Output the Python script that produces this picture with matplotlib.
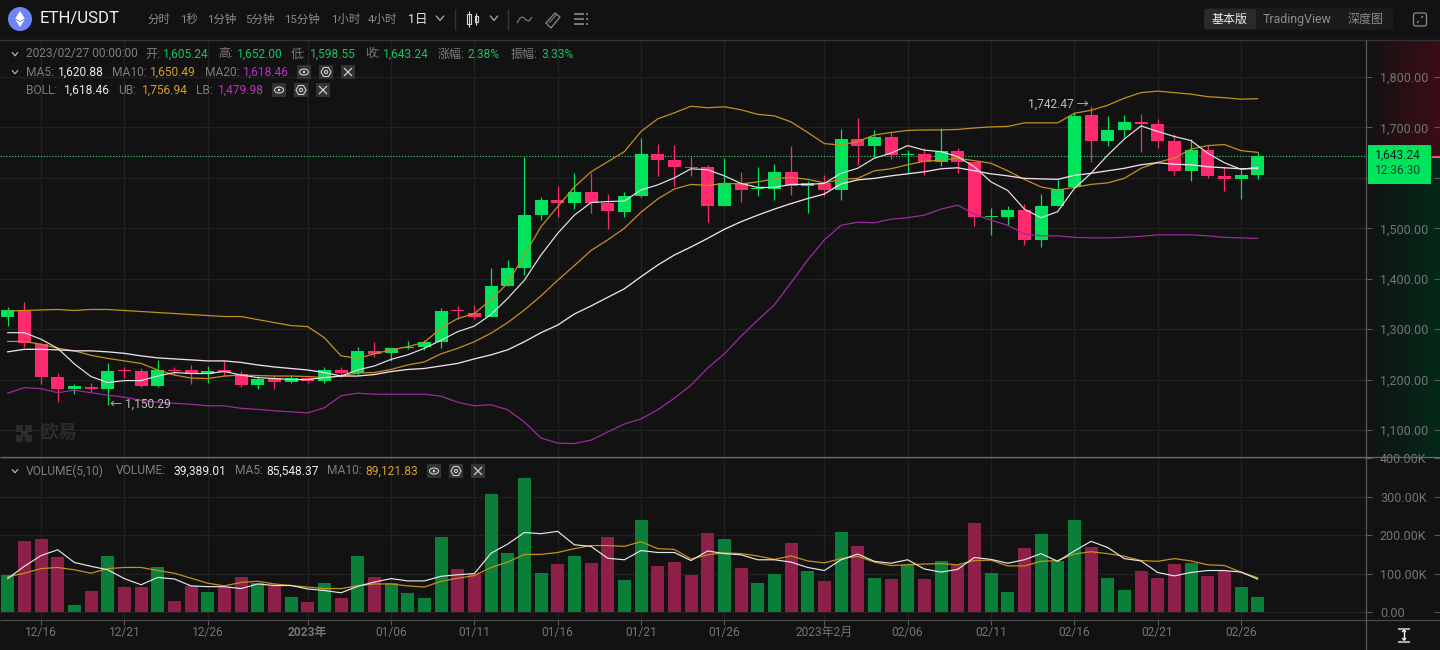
import numpy as np
import matplotlib
matplotlib.use("Agg")
import matplotlib.pyplot as plt
from matplotlib.patches import Rectangle, Circle, Ellipse, Polygon, FancyBboxPatch
from matplotlib.transforms import Bbox

plt.rcParams['font.family'] = ['Roboto', 'Noto Sans CJK SC', 'DejaVu Sans']

# ---------- data ----------
opens = [1325,1338,1270,1205,1182,1185,1181,1219,1217,1187,1219,1219,1212,1217,1212,1189,1203,1196,1203,1198,
         1219,1214,1257,1252,1263,1264,1274,1337,1333,1324,1386,1421,1526,1556,1551,1572,1551,1533,1564,1647,
         1635,1622,1622,1544,1589,1578,1578,1611,1584,1589,1576,1678,1663,1681,1645,1647,1632,1653,1631,1522,
         1523,1536,1477,1544,1581,1725,1674,1695,1711,1707,1673,1614,1655,1604,1598,1605.24]
highs = [1344,1354,1272,1213,1191,1194,1232,1225,1222,1239,1224,1228,1227,1237,1217,1207,1207,1209,1203,1225,
         1225,1264,1275,1263,1276,1279,1341,1345,1348,1421,1438,1642,1562,1584,1610,1610,1568,1571,1679,1668,
         1665,1642,1626,1639,1612,1621,1627,1663,1594,1606,1696,1719,1695,1690,1655,1659,1698,1659,1632,1540,
         1544,1548,1568,1596,1730,1742.47,1723,1725,1727,1716,1686,1678,1665,1622,1616,1652]
lows = [1306,1265,1191,1156,1171,1175,1150.29,1203,1186,1185,1209,1191,1194,1207,1186,1181,1181,1194,1193,1194,
        1205,1210,1244,1236,1260,1259,1263,1320,1321,1324,1386,1407,1516,1522,1538,1530,1499,1523,1563,1604,
        1584,1604,1513,1544,1553,1564,1556,1566,1531,1564,1556,1626,1642,1637,1609,1606,1624,1610,1504,1487,
        1506,1466,1462,1544,1579,1632,1664,1682,1652,1660,1606,1594,1600,1574,1558,1598.55]
closes = [1338,1272,1206,1181,1187,1181,1217,1217,1187,1219,1217,1212,1217,1216,1189,1201,1196,1203,1198,1219,
          1214,1257,1251,1263,1264,1274,1336,1336,1325,1386,1421,1526,1556,1551,1571,1551,1534,1564,1647,1635,
          1622,1620,1544,1589,1576,1579,1611,1584,1589,1576,1678,1663,1681,1645,1647,1632,1653,1632,1523,1523,
          1536,1477,1544,1578,1723,1674,1695,1711,1706,1674,1614,1655,1604,1598,1605,1643.24]

ma5 = [1293,1293,1280,1262,1231,1206,1194,1198,1198,1207,1214,1212,1212,1216,1209,1204,1202,1200,1200,1204,
       1207,1219,1227,1240,1249,1262,1278,1295,1306,1329,1361,1397,1447,1490,1526,1551,1553,1554,1576,1586,
       1600,1618,1616,1604,1589,1581,1581,1587,1587,1589,1609,1619,1639,1649,1664,1655,1652,1642,1622,1592,
       1575,1538,1521,1533,1579,1609,1645,1677,1703,1692,1682,1674,1649,1630,1617,1620.88]
ma10 = [1275.6,1275.6,1270,1262,1257,1248,1242,1237,1232,1219,1209,1203,1202,1207,1209,1208,1207,1207,1206,1204,
        1207,1213,1214,1220,1229,1235,1251,1262,1275,1292,1313,1338,1366,1397,1426,1456,1477,1500,1532,1558,
        1578,1587,1585,1589,1588,1592,1598,1601,1597,1590,1597,1599,1614,1618,1626,1633,1635,1639,1634,1629,
        1614,1597,1582,1576,1581,1587,1590,1599,1619,1631,1639,1657,1664,1666,1654,1650.49]
ma20 = [1255,1260,1260,1259,1257,1257,1255,1252,1247,1243,1241,1239,1237,1237,1234,1229,1225,1222,1219,1214,
        1207,1207,1210,1216,1220,1222,1227,1232,1241,1249,1259,1275,1293,1308,1330,1346,1363,1380,1404,1427,
        1447,1463,1480,1498,1513,1526,1538,1549,1559,1568,1588,1596,1599,1604,1608,1612,1618,1620,1614,1608,
        1604,1599,1598,1597,1605,1609,1614,1619,1626,1630,1627,1626,1622,1620,1618,1618.46]
boll_ub = [1336,1337,1338,1339,1337,1339,1339,1337,1335,1333,1331,1329,1327,1325,1325,1319,1313,1307,1305,1283,
           1247,1242,1251,1259,1265,1274,1302,1321,1331,1358,1391,1447,1503,1543,1582,1612,1632,1652,1692,1717,
           1729,1742,1739,1741,1735,1726,1723,1711,1690,1668,1665,1672,1685,1690,1694,1695,1695,1696,1699,1701,
           1702,1709,1709,1709,1728,1734,1744,1758,1769,1772,1769,1766,1761,1759,1756,1756.94]
boll_lb = [1173,1184,1182,1174,1179,1174,1169,1165,1159,1155,1153,1151,1148,1148,1143,1141,1138,1136,1134,1144,
           1168,1173,1171,1171,1171,1171,1167,1155,1148,1150,1140,1116,1084,1074,1073,1080,1096,1112,1122,1140,
           1163,1189,1223,1251,1286,1318,1348,1392,1437,1477,1506,1512,1511,1518,1521,1526,1538,1546,1528,1516,
           1506,1489,1485,1485,1482,1481,1481,1482,1484,1487,1487,1487,1485,1482,1481,1479.98]

volumes = [97,185,190,144,19,55,146,66,66,118,29,68,53,66,92,75,68,40,27,76,
           37,146,92,76,50,37,196,113,99,307,154,349,102,125,146,128,196,84,240,120,
           131,97,206,190,115,76,100,180,107,81,209,172,89,87,123,87,133,123,232,102,
           53,167,203,133,240,170,89,58,107,89,125,128,94,107,66,39.389]
vol_ma5 = [87,119,147,162,129,119,110,87,71,90,86,68,66,66,61,73,69,69,60,56,
           50,67,78,87,81,81,93,97,100,153,177,207,204,210,175,171,140,136,160,155,
           155,134,159,152,149,136,136,130,116,108,136,151,132,127,136,112,104,111,142,137,
           127,136,152,132,159,184,168,139,133,103,94,103,108,108,104,85.548]
vol_ma10 = [92,101,113,116,110,101,113,116,116,108,101,88,75,68,77,80,73,69,65,61,
            61,68,73,73,68,65,80,88,95,116,130,150,150,155,165,173,173,171,183,165,
            163,138,149,154,152,146,137,146,133,128,139,145,130,121,123,125,126,123,134,135,
            120,120,132,134,151,157,152,145,134,132,139,133,123,121,104,89.122]

date_idx = [2,7,12,18,23,28,33,38,43,49,54,59,64,69,74]
date_labels = ['12/16','12/21','12/26','2023年','01/06','01/11','01/16','01/21','01/26',
               '2023年2月','02/06','02/11','02/16','02/21','02/26']
price_ticks = [1100,1200,1300,1400,1500,1600,1700,1800]
vol_ticks = [0,100,200,300,400]

BG = '#121212'; GRID = '#212121'; GREY = '#7d7d7d'; LABEL = '#747474'
UP = '#00e35c'; DOWN = '#ff2a6d'; VUP = '#0a7f39'; VDOWN = '#8e1f49'
WHITE = '#e6e6e6'; ORANGE = '#c4901f'; ROSE = '#f3dcec'; PURPLE = '#9a2c9d'
W, H = 1440, 650
px = 0.72

def rect(y0, y1, x0=0, x1=1366):
    return [x0/W, 1-y1/H, (x1-x0)/W, (y1-y0)/H]

fig = plt.figure(figsize=(14.4, 6.5), dpi=100, facecolor=BG)

n = len(closes)
x = np.arange(n)
xlim = (-0.462, 81.5)

# ---------- right gradient panel ----------
gr = fig.add_axes(rect(41, 457, 1366, 1440), zorder=0)
gr.axis('off')
ramp = np.linspace(0, 1, 64)
red = np.zeros((2, 64, 4)); red[..., 0] = 0.27; red[..., 1] = 0.05; red[..., 2] = 0.09; red[..., 3] = ramp * 0.85
grn = np.zeros((2, 64, 4)); grn[..., 0] = 0.0; grn[..., 1] = 0.18; grn[..., 2] = 0.10; grn[..., 3] = ramp * 0.85
gr.imshow(red, extent=(0, 1, 116, 0), aspect='auto', zorder=1)
gr.imshow(grn, extent=(0, 1, 416, 116), aspect='auto', zorder=1)
gr.set_xlim(0, 1); gr.set_ylim(416, 0)

# ---------- price pane ----------
ax = fig.add_axes(rect(41, 457), zorder=2)
ax.patch.set_alpha(0)
ax.set_xlim(*xlim)
ax.set_ylim(1800 - 380*1.983, 1800 + 36*1.983)
ax.set_yticks(price_ticks)
ax.set_yticklabels(['' if v == 1600 else f'{v:,.2f}' for v in price_ticks], color=LABEL, fontsize=12.5*px)
ax.yaxis.tick_right()
ax.tick_params(axis='y', length=4, width=0.8, color='#5a5a5a', pad=6)
ax.hlines(price_ticks, 1434/1366, 1440/1366, transform=ax.get_yaxis_transform(), colors='#5a5a5a', lw=0.8, clip_on=False)
ax.set_xticks(date_idx); ax.tick_params(axis='x', length=0, labelbottom=False)
ax.grid(True, color=GRID, lw=1)
ax.set_axisbelow(True)
for s in ax.spines.values():
    s.set_visible(False)

colors = [UP if c >= o else DOWN for o, c in zip(opens, closes)]
ax.vlines(x, lows, highs, colors=colors, lw=0.9, zorder=3)
ax.bar(x, np.maximum(np.abs(np.array(closes)-np.array(opens)), 2.0),
       bottom=np.minimum(opens, closes), width=0.78, color=colors, lw=0, zorder=3)
ax.axhline(closes[-1], color='#3fd27a', lw=0.8, ls=(0, (1, 1.6)), zorder=2.5)

ax.plot(x, boll_lb, color=PURPLE, lw=0.9, zorder=4)
ax.plot(x, boll_ub, color=ORANGE, lw=0.9, zorder=4)
ax.plot(x, ma10, color=ORANGE, lw=0.9, zorder=4)
ax.plot(x, ma20, color=ROSE, lw=0.95, zorder=4)
ax.plot(x, ma5, color=WHITE, lw=0.85, zorder=5)

ax.annotate('← 1,150.29', xy=(6, 1150.29), xytext=(1.5, 0), textcoords='offset points',
            color='#c0c0c0', fontsize=12*px, va='center', ha='left', zorder=6)
ax.annotate('1,742.47 →', xy=(65, 1742.47), xytext=(-1.5, 1), textcoords='offset points',
            color='#c0c0c0', fontsize=12*px, va='center', ha='right', zorder=6)

# ---------- volume pane ----------
av = fig.add_axes(rect(458, 620), zorder=2)
av.patch.set_alpha(0)
av.set_xlim(*xlim)
av.set_ylim(-20.8, 401)
av.set_yticks(vol_ticks)
labs = av.set_yticklabels(['0.00', '100.00K', '200.00K', '300.00K', '400.00K'],
                          color=LABEL, fontsize=12.5*px)
av.yaxis.tick_right()
av.tick_params(axis='y', length=4, width=0.8, color='#5a5a5a', pad=6)
av.hlines(vol_ticks, 1434/1366, 1440/1366, transform=av.get_yaxis_transform(), colors='#5a5a5a', lw=0.8, clip_on=False)
av.set_xticks(date_idx)
xl = av.set_xticklabels(date_labels, color=LABEL, fontsize=12*px)
xl[3].set_fontweight('bold')
av.tick_params(axis='x', length=3.5, width=0.8, color='#5a5a5a', pad=1)
av.grid(True, color=GRID, lw=1)
av.set_axisbelow(True)
for s in av.spines.values():
    s.set_visible(False)
av.bar(x, volumes, width=0.78, color=[VUP if c == UP else VDOWN for c in colors], lw=0, zorder=3)
av.plot(x, vol_ma10, color=ORANGE, lw=0.9, zorder=4)
av.plot(x, vol_ma5, color=WHITE, lw=0.85, zorder=5)
labs[4].set_clip_on(True)
labs[4].set_clip_box(Bbox([[1366, 0], [1440, H-458]]))

# ---------- overlay in pixel space: chrome of the trading screen ----------
o = fig.add_axes([0, 0, 1, 1], zorder=5)
o.set_xlim(0, W); o.set_ylim(H, 0); o.axis('off'); o.patch.set_alpha(0)

def t(xp, yp, s, c=GREY, size=12, **kw):
    kw.setdefault('va', 'center'); kw.setdefault('ha', 'left')
    o.text(xp, yp, s, color=c, fontsize=size*px, **kw)

def ln(xs, ys, c='#8a8a8a', lw=1.0, **kw):
    o.plot(xs, ys, color=c, lw=lw, solid_capstyle='butt', **kw)

# frame lines
ln([0, W], [40, 40], '#333333')
ln([0, W], [457, 457], '#6a6a6a', 0.9)
ln([0, W], [620, 620], '#4a4a4a', 0.9)
ln([1366, 1366], [40, 650], '#5a5a5a', 0.9)

# header
o.add_patch(Circle((20, 19), 12, fc='#6f85f7', ec='none'))
o.add_patch(Polygon([[20, 11], [25, 19], [20, 27], [15, 19]], fc='#ffffff', ec='none'))
ln([15, 20, 25], [19, 21.5, 19], '#6f85f7', 0.7)
t(40, 19, 'ETH/USDT', '#f0f0f0', 16.8)
for xp, s in [(147, '分时'), (180, '1秒'), (207, '1分钟'), (245, '5分钟'), (284, '15分钟'), (331, '1小时'), (368, '4小时')]:
    t(xp, 19, s, '#8c8c8c', 11.5)
t(408, 19, '1日', '#e8e8e8', 12.5)

def chev(cx, cy, c='#bbbbbb', s=4, lw=0.9):
    ln([cx-s, cx, cx+s], [cy-s*0.6, cy+s*0.6, cy-s*0.6], c, lw)

chev(494, 18, '#aaaaaa'); chev(440, 18, '#aaaaaa')
ln([455, 455], [9, 30], '#333333'); ln([508, 508], [9, 30], '#333333')
# candle glyph
ln([469, 469], [11, 27], '#d8d8d8', 0.8); ln([476, 476], [13, 25], '#d8d8d8', 0.8)
o.add_patch(Rectangle((467, 14), 4, 10, fc=BG, ec='#d8d8d8', lw=0.8))
o.add_patch(Rectangle((474.5, 16), 3, 6, fc=BG, ec='#d8d8d8', lw=0.8))
# line tool
xc = np.array([517, 520, 523, 526, 529, 532]); yc = np.array([23, 18, 17, 20, 21, 17])
ln(xc, yc, '#6f6f6f', 1.0)
# ruler tool
o.add_patch(Polygon([[546, 23], [555, 13], [560, 17], [551, 28]], fc='none', ec='#7f7f7f', lw=1))
ln([549, 557], [23, 14], '#7f7f7f', 0.8)
# list tool
for yy in (14, 19, 24):
    ln([574, 584], [yy, yy], '#7f7f7f', 1.3)
    ln([586, 588], [yy, yy], '#7f7f7f', 1.3)

o.add_patch(FancyBboxPatch((1204, 8), 189, 22, boxstyle='round,pad=0,rounding_size=3', fc='#1b1b1b', ec='none'))
o.add_patch(FancyBboxPatch((1204, 9), 52, 20, boxstyle='round,pad=0,rounding_size=3', fc='#2a2a2a', ec='none'))
t(1212, 19, '基本版', '#f0f0f0', 12)
t(1263, 19, 'TradingView', '#8c8c8c', 12.4)
t(1348, 19, '深度图', '#8c8c8c', 12)
o.add_patch(FancyBboxPatch((1413.5, 13), 13, 13, boxstyle='round,pad=0,rounding_size=2', fc='none', ec='#8a8a8a', lw=0.9))
ln([1417, 1419], [23, 21], '#8a8a8a', 0.9); ln([1421, 1423], [18, 16], '#8a8a8a', 0.9)

# legend rows
GR = '#16c45f'
chev(15, 54, '#b0b0b0', 3); chev(15, 72, '#b0b0b0', 3); chev(15, 471, '#b0b0b0', 3)
for xp, s, c in [(26, '2023/02/27 00:00:00', GREY), (145, '开:', GREY), (163, '1,605.24', GR), (218, '高:', GREY),
                 (237, '1,652.00', GR), (291, '低:', GREY), (310, '1,598.55', GR), (365, '收:', GREY),
                 (383, '1,643.24', GR), (438, '涨幅:', GREY), (468, '2.38%', GR), (511, '振幅:', GREY), (541, '3.33%', GR)]:
    t(xp, 54, s, c)
for xp, s, c in [(26, 'MA5:', GREY), (58, '1,620.88', '#ececec'), (112, 'MA10:', GREY), (150, '1,650.49', '#d8a022'),
                 (205, 'MA20:', GREY), (243, '1,618.46', '#c030c0')]:
    t(xp, 72, s, c)
for xp, s, c in [(26, 'BOLL:', GREY), (64, '1,618.46', '#ececec'), (118, 'UB:', GREY), (142, '1,756.94', '#d8a022'),
                 (196, 'LB:', GREY), (218, '1,479.98', '#c030c0')]:
    t(xp, 90, s, c)
for xp, s, c in [(26, 'VOLUME(5,10)', GREY), (116, 'VOLUME:', GREY), (173, '39,389.01', '#ececec'), (235, 'MA5:', GREY),
                 (266, '85,548.37', '#ececec'), (327, 'MA10:', GREY), (365, '89,121.83', '#d8a022')]:
    t(xp, 471, s, c)

def icons(x0, yc):
    for i, xc in enumerate((x0, x0+22, x0+44)):
        o.add_patch(Rectangle((xc-7, yc-7), 14, 14, fc='#333333', ec='none'))
    o.add_patch(Ellipse((x0, yc), 9, 6, fc='none', ec='#cfcfcf', lw=0.8))
    o.add_patch(Circle((x0, yc), 1.3, fc='#cfcfcf', ec='none'))
    c = x0+22
    o.add_patch(Polygon([[c-5, yc], [c-2.5, yc-4.5], [c+2.5, yc-4.5], [c+5, yc], [c+2.5, yc+4.5], [c-2.5, yc+4.5]],
                        fc='none', ec='#cfcfcf', lw=0.8))
    o.add_patch(Circle((c, yc), 1.6, fc='none', ec='#cfcfcf', lw=0.8))
    c = x0+44
    ln([c-4, c+4], [yc-4, yc+4], '#cfcfcf', 0.9); ln([c-4, c+4], [yc+4, yc-4], '#cfcfcf', 0.9)

icons(304, 72); icons(279, 90); icons(434, 471)

# watermark
for (cx, cy) in [(19, 428), (28, 428), (23.5, 433), (19, 438), (28, 438)]:
    o.add_patch(Rectangle((cx-3, cy-3.5), 7, 7, fc='#2b2b2b', ec='none'))
t(40, 433, '欧易', '#2b2b2b', 19, fontweight='bold')

# price tag
o.add_patch(FancyBboxPatch((1368, 145), 63, 39, boxstyle='round,pad=0,rounding_size=1', fc='#00e35c', ec='none'))
ln([1431, 1440], [155.5, 155.5], '#ff2a6d', 0.8)
ln([1431, 1440], [157, 157], '#00e35c', 0.8)
t(1397.5, 155.5, f'{closes[-1]:,.2f}', '#0d2a18', 12, ha='center')
t(1397.5, 171, '12:36:30', '#10482c', 12, ha='center')

# cursor icon bottom right
ln([1398, 1410], [628.5, 628.5], '#a8a8a8', 1.5)
ln([1398, 1410], [641.5, 641.5], '#a8a8a8', 1.5)
ln([1404, 1404], [630, 640], '#ffffff', 1.0)
ln([1402, 1404, 1406], [632, 630, 632], '#ffffff', 0.9)
ln([1402, 1404, 1406], [638, 640, 638], '#ffffff', 0.9)

fig.savefig('out.png', dpi=100, facecolor=BG)
